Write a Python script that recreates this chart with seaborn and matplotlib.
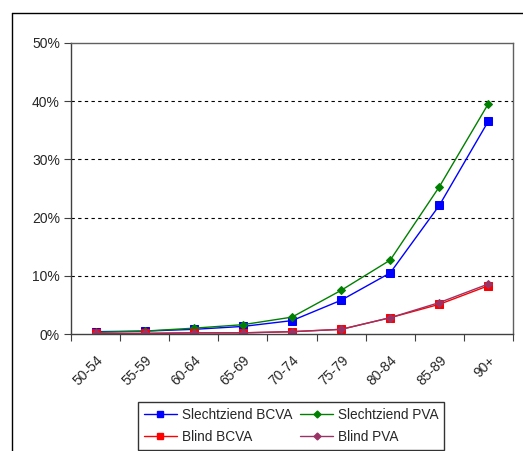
import matplotlib
matplotlib.use("Agg")
import matplotlib.pyplot as plt
import matplotlib.transforms as mtransforms
import seaborn as sns
import pandas as pd
from matplotlib.lines import Line2D

age_groups = ["50-54", "55-59", "60-64", "65-69", "70-74", "75-79", "80-84", "85-89", "90+"]
slechtziend_bcva = [0.4, 0.5, 0.8, 1.3, 2.3, 5.8, 10.5, 22.1, 36.6]
slechtziend_pva = [0.3, 0.5, 1.0, 1.6, 2.9, 7.5, 12.7, 25.3, 39.6]
blind_bcva = [0.1, 0.1, 0.2, 0.2, 0.4, 0.8, 2.8, 5.1, 8.3]
blind_pva = [0.1, 0.1, 0.2, 0.2, 0.4, 0.8, 2.8, 5.4, 8.6]
series_names = ["Slechtziend BCVA", "Slechtziend PVA", "Blind BCVA", "Blind PVA"]
y_ticks = [0, 10, 20, 30, 40, 50]

series_values = [slechtziend_bcva, slechtziend_pva, blind_bcva, blind_pva]
rows = []
for name, vals in zip(series_names, series_values):
    for i, (grp, v) in enumerate(zip(age_groups, vals)):
        rows.append({"pos": i, "leeftijd": grp, "serie": name, "pct": v})
df = pd.DataFrame(rows)

sns.set_style("white")
plt.rcParams["font.family"] = ["Liberation Sans", "DejaVu Sans"]

colors = {"Slechtziend BCVA": "#0000FF", "Slechtziend PVA": "#008000",
          "Blind BCVA": "#FF0000", "Blind PVA": "#993366"}
markers = {"Slechtziend BCVA": "s", "Slechtziend PVA": "D",
           "Blind BCVA": "s", "Blind PVA": "D"}
msizes = {"Slechtziend BCVA": 5.5, "Slechtziend PVA": 4.5,
          "Blind BCVA": 5.5, "Blind PVA": 4.5}

fig = plt.figure(figsize=(5.23, 4.51), dpi=100)
fig.patch.set_facecolor("white")
ax = fig.add_axes([71 / 523, 117 / 451, 442 / 523, 291 / 451])

for name in series_names:
    sub = df[df["serie"] == name]
    sns.lineplot(data=sub, x="pos", y="pct", ax=ax, color=colors[name],
                 marker=markers[name], markersize=msizes[name],
                 markeredgecolor=colors[name], linewidth=1.0, legend=False)

ax.set_xlim(-0.5, len(age_groups) - 0.5)
ax.set_ylim(0, 50)
ax.set_xlabel("")
ax.set_ylabel("")

ax.set_yticks(y_ticks)
ax.set_yticklabels([f"{t}%" for t in y_ticks], fontsize=10)
for t in y_ticks[1:-1]:
    ax.axhline(t, color="black", linestyle=(0, (3, 3)), linewidth=0.8, zorder=0)

ax.set_xticks(range(len(age_groups)))
ax.set_xticklabels(age_groups, rotation=45, ha="right", rotation_mode="anchor", fontsize=10)
shift = mtransforms.ScaledTranslation(-8 / 100, 0, fig.dpi_scale_trans)
for lbl in ax.get_xticklabels():
    lbl.set_transform(lbl.get_transform() + shift)
ax.set_xticks([i - 0.5 for i in range(len(age_groups) + 1)], minor=True)
ax.tick_params(axis="x", which="major", length=0, pad=14)
ax.tick_params(axis="x", which="minor", length=5, width=0.8, color="#404040", direction="out", bottom=True)
ax.tick_params(axis="y", length=5, width=0.8, color="#404040", direction="out", left=True, pad=3)

for side in ["left", "bottom"]:
    ax.spines[side].set_color("#404040")
    ax.spines[side].set_linewidth(1.0)
for side in ["top", "right"]:
    ax.spines[side].set_color("#606060")
    ax.spines[side].set_linewidth(1.0)

# chart area frame
fig.add_artist(Line2D([12 / 523, 1.0], [1 - 13 / 451, 1 - 13 / 451], transform=fig.transFigure,
                      color="black", linewidth=1.0))
fig.add_artist(Line2D([12 / 523, 12 / 523], [0, 1 - 13 / 451], transform=fig.transFigure,
                      color="black", linewidth=1.0))

# legend filled row by row: matplotlib fills columns first, so interleave
order = [0, 2, 1, 3]
handles = [Line2D([0], [0], color=colors[series_names[i]], marker=markers[series_names[i]],
                  markersize=msizes[series_names[i]] - 1, linewidth=1.0) for i in order]
labels = [series_names[i] for i in order]
leg = fig.legend(handles, labels, ncol=2, loc="upper left",
                 bbox_to_anchor=(138 / 523, 1 - 402 / 451), borderaxespad=0,
                 frameon=True, fontsize=9.8,
                 handlelength=2.4, handletextpad=0.35, columnspacing=0.6,
                 borderpad=0.45, labelspacing=0.55, fancybox=False)
leg.get_frame().set_edgecolor("black")
leg.get_frame().set_linewidth(1.0)

fig.savefig("out.png", dpi=100, facecolor="white")
